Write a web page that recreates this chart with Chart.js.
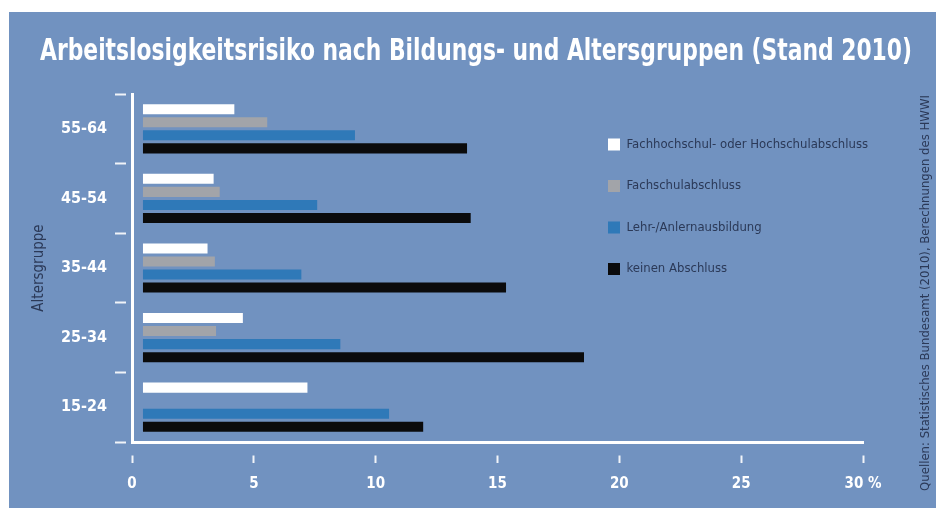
<!DOCTYPE html>
<html>
<head>
<meta charset="utf-8">
<script src="https://cdn.jsdelivr.net/npm/chart.js@4/dist/chart.umd.min.js"></script>
<style>
  html, body { margin: 0; padding: 0; background: #ffffff; }
  #wrap { position: relative; width: 936px; height: 508px; }
</style>
</head>
<body>
<div id="wrap"><canvas id="c" width="936" height="508"></canvas></div>
<script>
// ---- data ----
const ageGroups = ['55-64', '45-54', '35-44', '25-34', '15-24'];
const seriesNames = [
  'Fachhochschul- oder Hochschulabschluss',
  'Fachschulabschluss',
  'Lehr-/Anlernausbildung',
  'keinen Abschluss'
];
const hochschul     = [4.2, 3.35, 3.1, 4.55, 7.2];
const fachschul     = [5.55, 3.6, 3.4, 3.45, null];
const lehre         = [9.15, 7.6, 6.95, 8.55, 10.55];
const keinAbschluss = [13.75, 13.9, 15.35, 18.55, 11.95];
const xTickLabels = ['0', '5', '10', '15', '20', '25', '30 %'];
const chartTitle = 'Arbeitslosigkeitsrisiko nach Bildungs- und Altersgruppen (Stand 2010)';
const yAxisTitle = 'Altersgruppe';
const sourceNote = 'Quellen: Statistisches Bundesamt (2010), Berechnungen des HWWI';

// ---- styles ----
const FONT = '"Liberation Sans Narrow", "Arial Narrow", "DejaVu Sans Condensed", "Roboto Condensed", sans-serif';
const BG = '#7192c0';
const DARK = '#2b3957';
const colors = ['#ffffff', '#a2a4a9', '#2f79b8', '#0b0b0c'];
const BAR_BASE = 0.45;

const bgPlugin = {
  id: 'bgPanel',
  beforeDraw(chart) {
    const ctx = chart.ctx;
    ctx.save();
    ctx.fillStyle = BG;
    ctx.fillRect(9, 12, chart.width - 9, chart.height - 12);
    ctx.restore();
  }
};

const legendPlacer = {
  id: 'legendPlacer',
  afterLayout(chart) {
    const lg = chart.legend;
    if (!lg) return;
    const w = lg.width, h = lg.height;
    lg.left = 579.5; lg.top = 109.5;
    lg.right = lg.left + w; lg.bottom = lg.top + h;
  }
};

const sourcePlugin = {
  id: 'sourceNote',
  afterDraw(chart) {
    const ctx = chart.ctx;
    ctx.save();
    ctx.translate(926, 293);
    ctx.rotate(-Math.PI / 2);
    ctx.font = '13px ' + FONT;
    ctx.fillStyle = DARK;
    ctx.textAlign = 'center';
    ctx.textBaseline = 'middle';
    ctx.fillText(sourceNote, 0, 0);
    ctx.restore();
  }
};

const seriesData = [hochschul, fachschul, lehre, keinAbschluss];

new Chart(document.getElementById('c'), {
  type: 'bar',
  data: {
    labels: ageGroups,
    datasets: seriesData.map((d, i) => ({
      label: seriesNames[i],
      data: d,
      backgroundColor: colors[i],
      borderWidth: 0,
      base: BAR_BASE,
      categoryPercentage: 0.75,
      barPercentage: 0.77
    }))
  },
  options: {
    indexAxis: 'y',
    responsive: false,
    animation: false,
    devicePixelRatio: 1,
    layout: { padding: { left: 40, right: 24, top: 0, bottom: 0 } },
    plugins: {
      title: {
        display: true,
        text: chartTitle,
        color: '#ffffff',
        font: { family: FONT, size: 30, weight: 'bold' },
        padding: { top: 34, bottom: 24 }
      },
      legend: {
        display: true,
        position: 'chartArea',
        align: 'start',
        labels: {
          boxWidth: 12,
          boxHeight: 12,
          padding: 28.5,
          color: DARK,
          font: { family: FONT, size: 13 }
        }
      },
      tooltip: { enabled: false }
    },
    scales: {
      x: {
        type: 'linear',
        min: 0,
        max: 30,
        ticks: {
          stepSize: 5,
          color: '#ffffff',
          padding: 12,
          font: { family: FONT, size: 15, weight: 'bold' },
          callback: (v) => xTickLabels[Math.round(v / 5)]
        },
        grid: {
          drawOnChartArea: false,
          drawTicks: true,
          tickLength: 21,
          tickColor: 'rgba(255,255,255,0.9)',
          tickWidth: 2,
          tickBorderDash: [8, 40],
          tickBorderDashOffset: 36.5
        },
        border: { display: true, color: '#ffffff', width: 3 },
        afterFit(s) { s.height = 66; }
      },
      y: {
        type: 'category',
        ticks: {
          color: '#ffffff',
          padding: 8,
          font: { family: FONT, size: 16, weight: 'bold' }
        },
        grid: {
          offset: true,
          drawOnChartArea: false,
          drawTicks: true,
          tickLength: 17,
          tickColor: 'rgba(255,255,255,0.9)',
          tickWidth: 2,
          tickBorderDash: [11, 40]
        },
        border: { display: true, color: '#ffffff', width: 3 },
        title: {
          display: true,
          text: yAxisTitle,
          color: DARK,
          font: { family: FONT, size: 15 },
          padding: { top: -10, bottom: 0 }
        },
        afterFit(s) { s.width = 92; }
      },
      y2: {
        type: 'linear',
        position: 'right',
        display: true,
        grid: { display: false, drawTicks: false },
        border: { display: false },
        ticks: { display: false },
        afterFit(s) { s.width = 49; }
      }
    }
  },
  plugins: [bgPlugin, legendPlacer, sourcePlugin]
});
</script>
</body>
</html>
